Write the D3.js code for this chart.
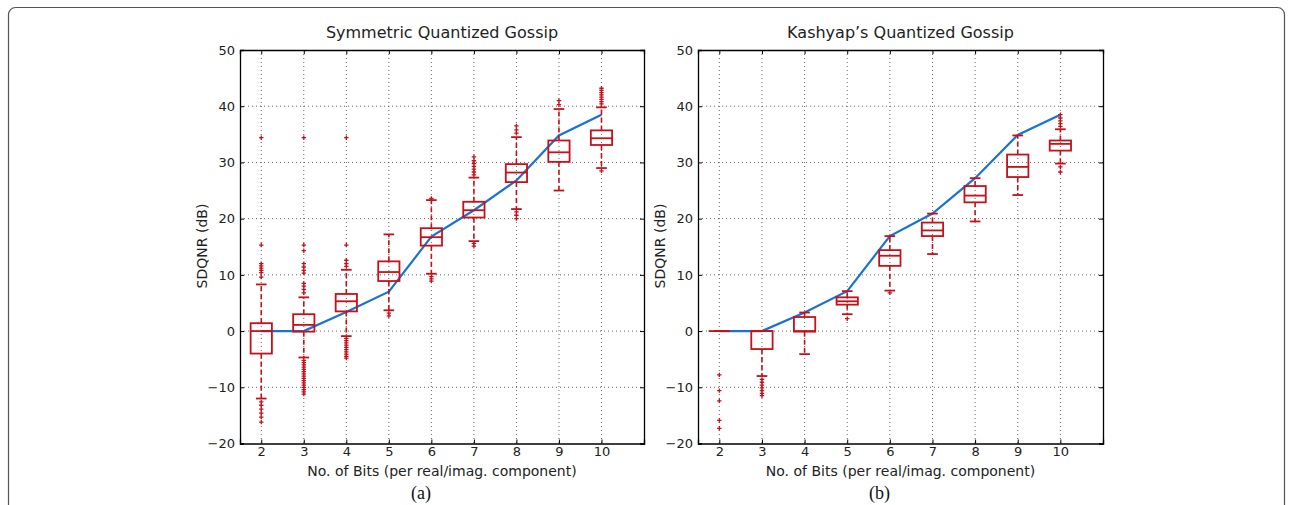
<!DOCTYPE html>
<html><head><meta charset="utf-8">
<script src="https://cdn.jsdelivr.net/npm/d3@7"></script>
<style>body{margin:0;background:#fff}svg{display:block}</style>
</head><body>
<svg id="chart" width="1292" height="505"></svg>
<script>
// ---------- data ----------
const bits = [2,3,4,5,6,7,8,9,10];
const yTicks = [-20,-10,0,10,20,30,40,50];
const titles = ["Symmetric Quantized Gossip", "Kashyap\u2019s Quantized Gossip"];
const subLabels = ["(a)", "(b)"];
const xLabel = "No. of Bits (per real/imag. component)";
const yLabel = "SDQNR (dB)";

// theoretical curve (blue)
const theoryA = [0, 0, 3.4, 7.0, 16.8, 21.5, 26.8, 34.8, 38.5];
const theoryB = [0, 0, 3.3, 7.1, 16.9, 20.9, 27.2, 34.9, 38.5];

// Symmetric (a)
const a_q1  = [-4.0, -0.1, 3.5, 8.9, 15.2, 20.2, 26.5, 30.1, 33.1];
const a_med = [0.0, 1.1, 5.3, 10.5, 16.7, 21.5, 28.2, 31.8, 34.3];
const a_q3  = [1.4, 3.0, 6.6, 12.4, 18.3, 23.0, 29.7, 33.9, 35.7];
const a_lo  = [-12.0, -4.7, -0.9, 3.7, 10.2, 16.0, 21.7, 25.0, 29.0];
const a_hi  = [8.3, 6.0, 10.9, 17.2, 23.3, 27.3, 34.5, 39.5, 39.8];
const a_out = [
  [34.4, 15.3, 12.0, 11.6, 11.2, 10.8, 10.4, 9.6, -12.6, -13.2, -13.9, -14.6, -15.3, -16.2],
  [34.4, 15.3, 14.3, 12.0, 11.4, 10.8, 10.3, 8.5, 8.0, 7.4, 6.8, -5.2, -5.6, -6.0, -6.4, -6.8, -7.2, -7.6, -8.0, -8.4, -8.8, -9.2, -9.6, -10.0, -10.4, -10.8, -11.2],
  [34.4, 15.3, 12.6, 12.0, 11.5, -1.3, -1.7, -2.1, -2.5, -2.9, -3.3, -3.7, -4.1, -4.5, -4.8],
  [3.2, 2.7],
  [23.6, 9.7, 9.3, 8.9],
  [27.8, 28.3, 28.8, 29.3, 29.8, 30.3, 31.0, 15.6, 15.1],
  [35.2, 35.8, 36.5, 21.2, 20.6, 20.0],
  [40.3, 41.0],
  [40.4, 40.8, 41.2, 41.6, 42.0, 42.4, 42.8, 43.2, 28.5]
];

// Kashyap (b)
const b_q1  = [0.0, -3.2, -0.1, 4.7, 11.6, 16.9, 22.9, 27.4, 32.1];
const b_med = [0.0, 0.0, 0.0, 5.3, 13.4, 17.9, 24.1, 29.2, 33.3];
const b_q3  = [0.0, 0.0, 2.5, 6.0, 14.4, 19.3, 25.8, 31.4, 33.9];
const b_lo  = [0.0, -8.0, -4.1, 3.0, 7.2, 13.7, 19.5, 24.2, 29.8];
const b_hi  = [0.0, 0.0, 3.3, 7.1, 16.9, 20.9, 27.2, 34.8, 35.9];
const b_out = [
  [-7.8, -10.6, -12.4, -15.9, -17.3],
  [-8.6, -9.1, -9.6, -10.1, -10.6, -11.1, -11.5],
  [],
  [2.2],
  [6.8],
  [],
  [],
  [],
  [36.4, 36.9, 37.4, 37.9, 38.5, 29.2, 28.3]
];

// ---------- drawing ----------
const svg = d3.select("#chart");
const red = "#c8101a", blue = "#1a72d2", textCol = "#222";
const font = "'DejaVu Sans', sans-serif";

// outer rounded frame
svg.append("rect").attr("x", 8.5).attr("y", 7.5).attr("width", 1276).attr("height", 520)
  .attr("rx", 7).attr("fill", "none").attr("stroke", "#555").attr("stroke-width", 1.2);

const panels = [
  {x0: 240, x1: 644, theory: theoryA, q1: a_q1, med: a_med, q3: a_q3, lo: a_lo, hi: a_hi, out: a_out},
  {x0: 698, x1: 1103, theory: theoryB, q1: b_q1, med: b_med, q3: b_q3, lo: b_lo, hi: b_hi, out: b_out}
];
const yTop = 50, yBot = 443.5;

panels.forEach((p, pi) => {
  const x = d3.scaleLinear().domain([1.5, 11]).range([p.x0, p.x1]);
  const y = d3.scaleLinear().domain([-20, 50]).range([yBot, yTop]);
  const g = svg.append("g");

  // grid
  const grid = g.append("g").attr("stroke", "#333").attr("stroke-width", 1)
    .attr("stroke-dasharray", "1,3").attr("opacity", 0.75);
  bits.forEach(b => grid.append("line").attr("x1", x(b)).attr("x2", x(b)).attr("y1", yTop).attr("y2", yBot));
  yTicks.filter(t => t > -20 && t < 50).forEach(t => grid.append("line")
    .attr("x1", p.x0).attr("x2", p.x1).attr("y1", y(t)).attr("y2", y(t)));

  // axes
  const ax = d3.axisLeft(y).tickValues(yTicks).tickSize(-4).tickPadding(5)
    .tickFormat(d => d < 0 ? "\u2212" + Math.abs(d) : d);
  const gy = g.append("g").attr("transform", `translate(${p.x0},0)`).call(ax);
  const axr = d3.axisRight(y).tickValues(yTicks).tickSize(-4).tickFormat("");
  const gyr = g.append("g").attr("transform", `translate(${p.x1},0)`).call(axr);
  const bx = d3.axisBottom(x).tickValues(bits).tickSize(-4).tickPadding(3).tickFormat(d3.format("d"));
  const gx = g.append("g").attr("transform", `translate(0,${yBot})`).call(bx);
  const bxt = d3.axisTop(x).tickValues(bits).tickSize(-4).tickFormat("");
  const gxt = g.append("g").attr("transform", `translate(0,${yTop})`).call(bxt);
  [gy, gyr, gx, gxt].forEach(a => {
    a.select(".domain").attr("stroke", "#000").attr("stroke-width", 1.3);
    a.selectAll(".tick line").attr("stroke", "#000");
    a.selectAll("text").attr("font-family", font).attr("font-size", 13).attr("fill", textCol);
  });

  // theory line
  const line = d3.line().x((d, i) => x(bits[i])).y(d => y(d));
  g.append("path").datum(p.theory).attr("d", line).attr("fill", "none")
    .attr("stroke", blue).attr("stroke-width", 2.2);

  // boxplots
  const bw = 0.25, cw = 0.125;
  bits.forEach((b, i) => {
    const bg = g.append("g").attr("stroke", red).attr("fill", "none");
    bg.append("line").attr("x1", x(b)).attr("x2", x(b)).attr("y1", y(p.q3[i])).attr("y2", y(p.hi[i]))
      .attr("stroke-width", 1.6).attr("stroke-dasharray", "5,3");
    bg.append("line").attr("x1", x(b)).attr("x2", x(b)).attr("y1", y(p.q1[i])).attr("y2", y(p.lo[i]))
      .attr("stroke-width", 1.6).attr("stroke-dasharray", "5,3");
    [p.hi[i], p.lo[i]].forEach(v => bg.append("line").attr("x1", x(b - cw)).attr("x2", x(b + cw))
      .attr("y1", y(v)).attr("y2", y(v)).attr("stroke-width", 1.8));
    bg.append("rect").attr("x", x(b - bw)).attr("width", x(b + bw) - x(b - bw))
      .attr("y", y(p.q3[i])).attr("height", Math.max(0, y(p.q1[i]) - y(p.q3[i])))
      .attr("stroke-width", 1.8);
    bg.append("line").attr("x1", x(b - bw)).attr("x2", x(b + bw))
      .attr("y1", y(p.med[i])).attr("y2", y(p.med[i])).attr("stroke-width", 1.8);
    p.out[i].forEach(v => {
      const cx = x(b), cy = y(v), s = 2.2;
      bg.append("path").attr("d", `M${cx - s},${cy}H${cx + s}M${cx},${cy - s}V${cy + s}`)
        .attr("stroke-width", 1.3);
    });
  });

  const cx = (p.x0 + p.x1) / 2;
  g.append("text").attr("x", cx).attr("y", 38).attr("text-anchor", "middle")
    .attr("font-family", font).attr("font-size", 16).attr("fill", textCol).text(titles[pi]);
  g.append("text").attr("x", cx).attr("y", 476).attr("text-anchor", "middle")
    .attr("font-family", font).attr("font-size", 14).attr("fill", textCol).text(xLabel);
  g.append("text").attr("transform", `translate(${p.x0 - 33},${246}) rotate(-90)`)
    .attr("text-anchor", "middle").attr("font-family", font).attr("font-size", 14)
    .attr("fill", textCol).text(yLabel);
  g.append("text").attr("x", cx - 21).attr("y", 499).attr("text-anchor", "middle")
    .attr("font-family", "'Liberation Serif', serif").attr("font-size", 18).attr("fill", "#111")
    .text(subLabels[pi]);
});
</script>
</body></html>
